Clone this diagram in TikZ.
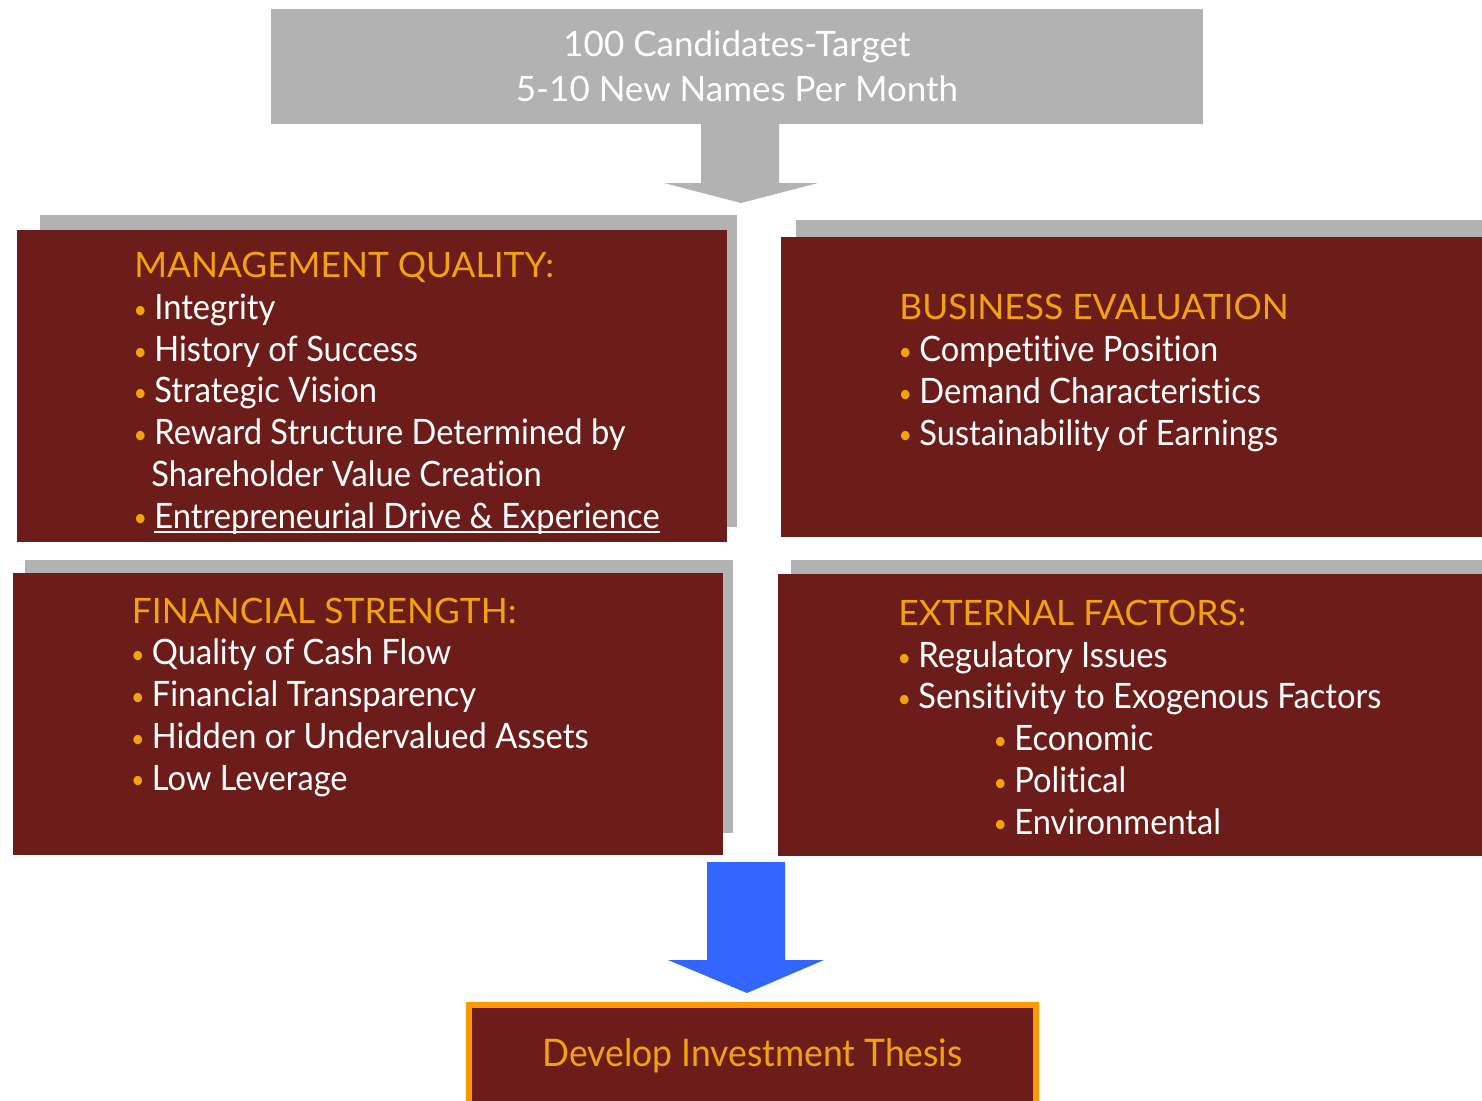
\documentclass[tikz,border=0pt]{standalone}
\usepackage{fontspec}
\setmainfont[FakeStretch=0.933, Ligatures={NoCommon}]{Lato}
\newfontfamily\headfont[FakeStretch=1.01, Ligatures={NoCommon}]{Lato}
\newfontfamily\widefont[FakeStretch=1.0, Ligatures={NoCommon}]{Lato}
\usepackage{tikz}
\usetikzlibrary{calc}

\definecolor{boxred}{HTML}{6C1D1A}
\definecolor{headgold}{HTML}{F0A30A}
\definecolor{rimorange}{HTML}{FF9900}
\definecolor{shadegray}{HTML}{B2B2B2}
\definecolor{arrowblue}{HTML}{3366FF}

\newsavebox\ulbox
\newcommand{\ulined}[1]{\sbox\ulbox{#1}\rlap{\rule[-2.6pt]{\wd\ulbox}{0.9pt}}\usebox\ulbox}
\newcommand{\bul}{\makebox[10pt][l]{\hspace{-0.4pt}\textcolor{headgold}{\raisebox{0.6pt}{\fontsize{12.5}{12}\selectfont\textbullet}}}}
\newcommand{\head}[1]{{\headfont\textcolor{headgold}{#1}}}

\tikzset{
  redbox/.style={fill=boxred, inner sep=0pt},
  boxtext/.style={anchor=base west, inner sep=0pt, align=left, text=white,
    font=\fontsize{17.5}{20.85}\selectfont},
}

\begin{document}
\begin{tikzpicture}[x=0.5pt, y=-0.5pt]
		%%%%% START %%%%%
		\useasboundingbox (0,0) rectangle (1482,1100);
		
		\node[fill=shadegray, inner sep=0pt, minimum width=466pt, minimum height=57.5pt,
		  text=white, align=center, font=\widefont\fontsize{17.5}{22.5}\selectfont]
		  (cand) at (737,66.5) {100 Candidates-Target\\5-10 New Names Per Month};
		\coordinate (graytip) at (741,203);
		\fill[shadegray] (701,123) -- (701,183) -- (664,183) -- (graytip) -- (818,183) -- (779,183) -- (779,123) -- cycle;
		
		\fill[shadegray] (40,215) rectangle (737,527);
		\fill[shadegray] (796,220) rectangle (1482,527);
		\fill[shadegray] (25,560) rectangle (733,833);
		\fill[shadegray] (791,560) rectangle (1482,833);
		
		\node[redbox, minimum width=355pt, minimum height=156pt] (mq) at (372,386) {};
		\node[redbox, minimum width=350.5pt, minimum height=150pt] (be) at (1131.5,387) {};
		\node[redbox, minimum width=355pt, minimum height=141pt] (fs) at (368,714) {};
		\node[redbox, minimum width=352pt, minimum height=141pt] (ef) at (1130,715) {};
		
		\node[boxtext] (mqtext) at (134,528) {\head{MANAGEMENT QUALITY:}\\
		  \bul Integrity\\
		  \bul History of Success\\
		  \bul Strategic Vision\\
		  \bul Reward Structure Determined by\\
		  \hspace{8.5pt}Shareholder Value Creation\\
		  \bul \ulined{Entrepreneurial Drive \& Experience}};
		\node[boxtext] (betext) at (899,445) {\head{BUSINESS EVALUATION}\\
		  \bul Competitive Position\\
		  \bul Demand Characteristics\\
		  \bul Sustainability of Earnings};
		\node[boxtext] (fstext) at (131.5,790) {\head{FINANCIAL STRENGTH:}\\
		  \bul Quality of Cash Flow\\
		  \bul Financial Transparency\\
		  \bul Hidden or Undervalued Assets\\
		  \bul Low Leverage};
		\node[boxtext] (eftext) at (898,834) {\head{EXTERNAL FACTORS:}\\
		  \bul Regulatory Issues\\
		  \bul Sensitivity to Exogenous Factors\\
		  \hspace{48pt}\bul Economic\\
		  \hspace{48pt}\bul Political\\
		  \hspace{48pt}\bul Environmental};
		
		\coordinate (bluetip) at (747,993);
		\fill[arrowblue] (707,862) -- (707,960) -- (668,960) -- (bluetip) -- (824,960) -- (785,960) -- (785,862) -- cycle;
		
		\node[fill=boxred, draw=rimorange, line width=3pt, inner sep=0pt,
		  minimum width=283.5pt, minimum height=50.5pt, text=headgold,
		  font=\fontsize{19}{20.85}\selectfont] (thesis) at (752.5,1055.5) {Develop Investment Thesis};
		%%%%% END %%%%%
	\end{tikzpicture}
\end{document}
